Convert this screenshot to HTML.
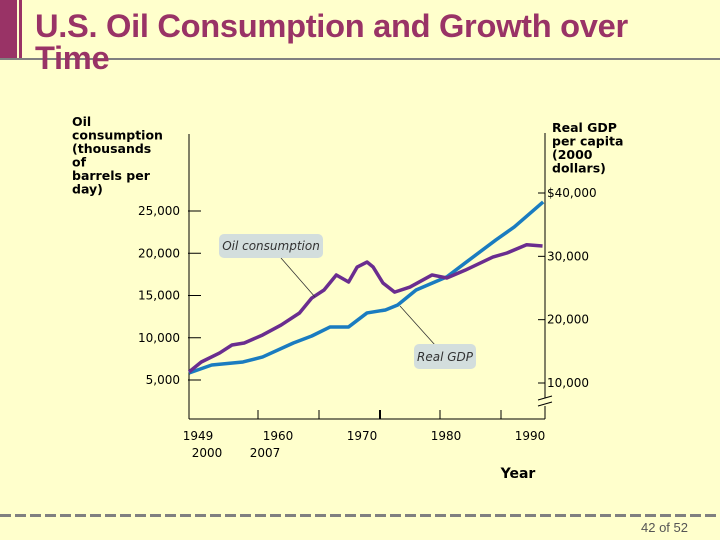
<!DOCTYPE html>
<html><head><meta charset="utf-8"><style>
body{margin:0;width:720px;height:540px;background:#ffffcc;overflow:hidden;position:relative;font-family:"Liberation Sans",sans-serif}
#title{position:absolute;left:35px;top:10px;font-size:32px;font-weight:bold;color:#993366;line-height:32px;letter-spacing:-0.3px;width:640px;transform:scaleX(1.02);transform-origin:left top}
#bar{position:absolute;left:0;top:0;width:17px;height:58px;background:#993366}
#bar2{position:absolute;left:19px;top:0;width:3px;height:58px;background:#993366}
#hline{position:absolute;left:0;top:58px;width:720px;height:2px;background:#808080}
#pg{position:absolute;left:641px;top:520px;font-size:13px;color:#555}
svg{position:absolute;left:0;top:0}
</style></head><body>
<div id="bar"></div>
<div id="bar2"></div>
<div id="hline"></div>
<svg id="chart" width="720" height="540"></svg>
<div id="title">U.S. Oil Consumption and Growth over<br>Time</div>
<div id="pg">42 of 52</div>
<script>
const oilYears=[1949,1951,1954,1956,1958,1961,1964,1967,1969,1971,1973,1975,1976.4,1978,1979,1980.6,1982.5,1985,1988.6,1991,1994,1998.5,2000.8,2004,2006.6];
const oilValues=[5950,7130,8200,9140,9380,10330,11500,12930,14700,15650,17430,16600,18370,18960,18370,16480,15400,16000,17430,17070,18000,19550,20030,21000,20860];
const gdpYears=[1949,1952.7,1957.8,1961,1966,1969,1972,1975,1978,1981,1983,1986,1991,1994,1999,2002,2006.7];
const gdpValues=[11580,12840,13320,14110,16320,17420,18850,18850,21060,21530,22320,24690,26750,28960,32590,34640,38590];
const leftTicks=[5000,10000,15000,20000,25000];
const leftTickLabels=["5,000","10,000","15,000","20,000","25,000"];
const rightTicks=[10000,20000,30000,40000];
const rightTickLabels=["10,000","20,000","30,000","$40,000"];
const xTickLabels=["1949","1960","1970","1980","1990"];
const xTickLabels2=["2000","2007"];

const NS="http://www.w3.org/2000/svg";
const svg=document.getElementById('chart');
function mk(t,a,txt){const e=document.createElementNS(NS,t);for(const k in a)e.setAttribute(k,a[k]);if(txt!==undefined)e.textContent=txt;svg.appendChild(e);return e;}
const X0=189,X1=545,Y0=419;
const xs=y=>X0+(y-1949)*(X1-X0)/(2007-1949);
const yl=v=>380-(v-5000)*(380-211)/20000;
const yr=v=>383-(v-10000)*(383-193)/30000;
const F='DejaVu Sans, sans-serif';

let e;
e=mk('line',{x1:X0,y1:134,x2:X0,y2:Y0,stroke:'#000','stroke-width':1});

e=mk('line',{x1:X0,y1:Y0,x2:X1,y2:Y0,stroke:'#000','stroke-width':1});

e=mk('path',{d:`M${X1} 133 V398 M${X1} 406 V${Y0}`,stroke:'#000','stroke-width':1,fill:'none'});

e=mk('path',{d:`M538 400 L552 396 M538 406 L552 402`,stroke:'#000','stroke-width':1,fill:'none'});


leftTicks.forEach((v,i)=>{
 e=mk('line',{x1:188,y1:yl(v),x2:201,y2:yl(v),stroke:'#000','stroke-width':1});
 
 e=mk('text',{x:180,y:yl(v)+4,'text-anchor':'end','font-size':12,'font-family':F},leftTickLabels[i]);
 
});
rightTicks.forEach((v,i)=>{
 e=mk('line',{x1:538,y1:yr(v),x2:545,y2:yr(v),stroke:'#000','stroke-width':1});
 
 e=mk('text',{x:547,y:yr(v)+4,'font-size':12,'font-family':F},rightTickLabels[i]);
 
});
[258,319,380,440,501].forEach((x,i)=>{
 e=mk('line',{x1:x,y1:410,x2:x,y2:Y0,stroke:'#000','stroke-width':i==2?2:1});
 
});
[198,278,362,446,530].forEach((x,i)=>{
 e=mk('text',{x:x,y:440,'text-anchor':'middle','font-size':12,'font-family':F},xTickLabels[i]);
 
});
[207,265].forEach((x,i)=>{
 e=mk('text',{x:x,y:457,'text-anchor':'middle','font-size':12,'font-family':F},xTickLabels2[i]);
 
});
e=mk('text',{x:518,y:478,'text-anchor':'middle','font-size':14,'font-weight':'bold','font-family':F},'Year');

["Oil","consumption","(thousands","of","barrels per","day)"].forEach((t,i)=>{
 e=mk('text',{x:72,y:126+i*13.5,'font-size':12.5,'font-weight':'bold','font-family':F},t);
 
});
["Real GDP","per capita","(2000","dollars)"].forEach((t,i)=>{
 e=mk('text',{x:552,y:132+i*13.5,'font-size':12.5,'font-weight':'bold','font-family':F},t);
 
});

e=mk('polyline',{points:gdpYears.map((y,i)=>xs(y)+','+yr(gdpValues[i])).join(' '),fill:'none',stroke:'#1a7cc0','stroke-width':3.5,'stroke-linejoin':'round'});

e=mk('polyline',{points:oilYears.map((y,i)=>xs(y)+','+yl(oilValues[i])).join(' '),fill:'none',stroke:'#6a2d8f','stroke-width':3.5,'stroke-linejoin':'round'});


e=mk('line',{x1:281,y1:258,x2:315,y2:297,stroke:'#333','stroke-width':0.8});

e=mk('line',{x1:435,y1:345,x2:400,y2:306,stroke:'#333','stroke-width':0.8});

e=mk('rect',{x:219,y:234,width:104,height:24,rx:5,fill:'#d3dedd'});

e=mk('text',{x:271,y:250,'text-anchor':'middle','font-size':12,'font-style':'italic','font-family':F,'fill':'#333'},'Oil consumption');

e=mk('rect',{x:414,y:344,width:62,height:25,rx:5,fill:'#d3dedd'});

e=mk('text',{x:445,y:361,'text-anchor':'middle','font-size':12,'font-style':'italic','font-family':F,'fill':'#333'},'Real GDP');


e=mk('line',{x1:0,y1:515.5,x2:720,y2:515.5,stroke:'#808080','stroke-width':3,'stroke-dasharray':'11 4'});

</script>
</body></html>
